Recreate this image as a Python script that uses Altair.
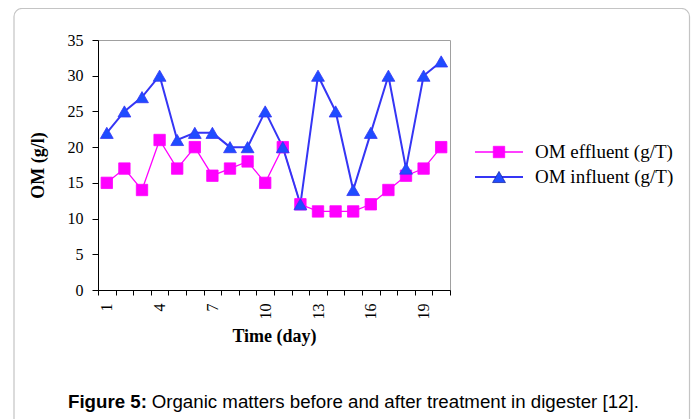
import altair as alt
import pandas as pd

# ---- data ----
days = list(range(1, 21))
effluent = [15, 17, 14, 21, 17, 20, 16, 17, 18, 15, 20, 12, 11, 11, 11, 12, 14, 16, 17, 20]
influent = [22, 25, 27, 30, 21, 22, 22, 20, 20, 25, 20, 12, 30, 25, 14, 22, 30, 17, 30, 32]
series_names = ["OM effluent (g/T)", "OM influent (g/T)"]
y_ticks = [0, 5, 10, 15, 20, 25, 30, 35]
x_label_days = [1, 4, 7, 10, 13, 16, 19]
caption_bold = "Figure 5:"
caption_text = "Organic matters before and after treatment in digester [12]."

df = pd.DataFrame({
    "day": days * 2,
    "value": effluent + influent,
    "series": [series_names[0]] * len(days) + [series_names[1]] * len(days),
})

W, H = 352, 250
boundaries = [d - 0.5 for d in days] + [days[-1] + 0.5]
label_list = ",".join(str(d) for d in x_label_days)
label_expr = f"indexof([{label_list}], datum.value + 0.5) >= 0 ? format(datum.value + 0.5, 'd') : ''"

SERIF = "Liberation Serif"
line_colors = ["#ff00ff", "#3535f5"]
fill_colors = ["#ff00ff", "#1f4cff"]
edge_colors = ["#ff00ff", "#1a2aa8"]
shapes = ["square", "triangle-up"]
sizes = [130, 165]
widths = [1.3, 2.0]

x_enc = alt.X(
    "day:Q",
    scale=alt.Scale(domain=[0.5, 20.5], nice=False, zero=False),
    axis=alt.Axis(
        values=boundaries, labelExpr=label_expr, labelOffset=W / 40,
        labelAngle=270, labelAlign="right", labelBaseline="middle",
        labelPadding=8, labelFont=SERIF, labelFontSize=16, labelColor="black",
        tickSize=5, tickColor="black", domainColor="black", grid=False,
        labelOverlap=False, labelBound=False, labelFlush=False,
        title="Time (day)", titleFont=SERIF, titleFontSize=18, titleFontWeight="bold",
        titleColor="black", titlePadding=8,
    ),
)
y_enc = alt.Y(
    "value:Q",
    scale=alt.Scale(domain=[0, 35], nice=False),
    axis=alt.Axis(
        values=y_ticks, labelFont=SERIF, labelFontSize=16, labelColor="black",
        labelPadding=9, tickSize=6, tickColor="black", domainColor="black", grid=False,
        title="OM (g/l)", titleFont=SERIF, titleFontSize=18, titleFontWeight="bold",
        titleColor="black", titlePadding=20,
    ),
)

base = alt.Chart(df)

lines = base.mark_line().encode(
    x=x_enc, y=y_enc,
    stroke=alt.Stroke("series:N", scale=alt.Scale(domain=series_names, range=line_colors), legend=None),
    strokeWidth=alt.StrokeWidth("series:N", scale=alt.Scale(domain=series_names, range=widths), legend=None),
)

points = base.mark_point(filled=True, opacity=1, strokeWidth=0.8).encode(
    x=x_enc, y=y_enc,
    fill=alt.Fill("series:N", scale=alt.Scale(domain=series_names, range=fill_colors), legend=None),
    stroke=alt.Stroke("series:N", scale=alt.Scale(domain=series_names, range=edge_colors), legend=None),
    shape=alt.Shape("series:N", scale=alt.Scale(domain=series_names, range=shapes), legend=None),
    size=alt.Size("series:N", scale=alt.Scale(domain=series_names, range=sizes), legend=None),
)

# ---- hand-built legend (line + marker + label), Excel style ----
LEG_X0, LEG_X1, LEG_TX = 377, 425, 437
LEG_Y0, LEG_DY = 112, 25
legend_layers = []
for i, name in enumerate(series_names):
    ly = LEG_Y0 + i * LEG_DY
    src = alt.Chart(alt.Data(values=[{"s": name}]))
    legend_layers.append(
        src.mark_rule(color=line_colors[i], strokeWidth=widths[i] + 0.2).encode(
            x=alt.value(LEG_X0), x2=alt.value(LEG_X1), y=alt.value(ly))
    )
    legend_layers.append(
        src.mark_point(filled=True, opacity=1, strokeWidth=0.8, shape=shapes[i],
                       size=sizes[i], fill=fill_colors[i], stroke=edge_colors[i]).encode(
            x=alt.value((LEG_X0 + LEG_X1) / 2), y=alt.value(ly))
    )
    legend_layers.append(
        src.mark_text(align="left", baseline="middle", font=SERIF, fontSize=19, color="black").encode(
            text="s:N", x=alt.value(LEG_TX), y=alt.value(ly))
    )

frame = alt.Chart(alt.Data(values=[{"k": 1}])).mark_rect(
    fillOpacity=0, stroke="#c4c4c4", strokeWidth=1.2, cornerRadius=8
).encode(x=alt.value(-84), x2=alt.value(591.5), y=alt.value(-31.5), y2=alt.value(420))

cap1 = alt.Chart(alt.Data(values=[{"t": caption_bold}])).mark_text(
    align="left", baseline="alphabetic", font="Liberation Sans", fontSize=18.7,
    fontWeight="bold", color="black"
).encode(text="t:N", x=alt.value(-30), y=alt.value(368))

cap2 = alt.Chart(alt.Data(values=[{"t": caption_text}])).mark_text(
    align="left", baseline="alphabetic", font="Liberation Sans", fontSize=18.7,
    color="black"
).encode(text="t:N", x=alt.value(53.7), y=alt.value(368))

chart = alt.layer(frame, lines, points, *legend_layers, cap1, cap2).properties(
    width=W, height=H,
    padding={"left": 90, "top": 32, "right": 241, "bottom": 129},
    autosize=alt.AutoSizeParams(type="none"),
    background="white",
).configure_view(stroke="#a0a0a0", strokeWidth=1)

chart.save("out.html", embed_options={"renderer": "svg", "actions": False})
